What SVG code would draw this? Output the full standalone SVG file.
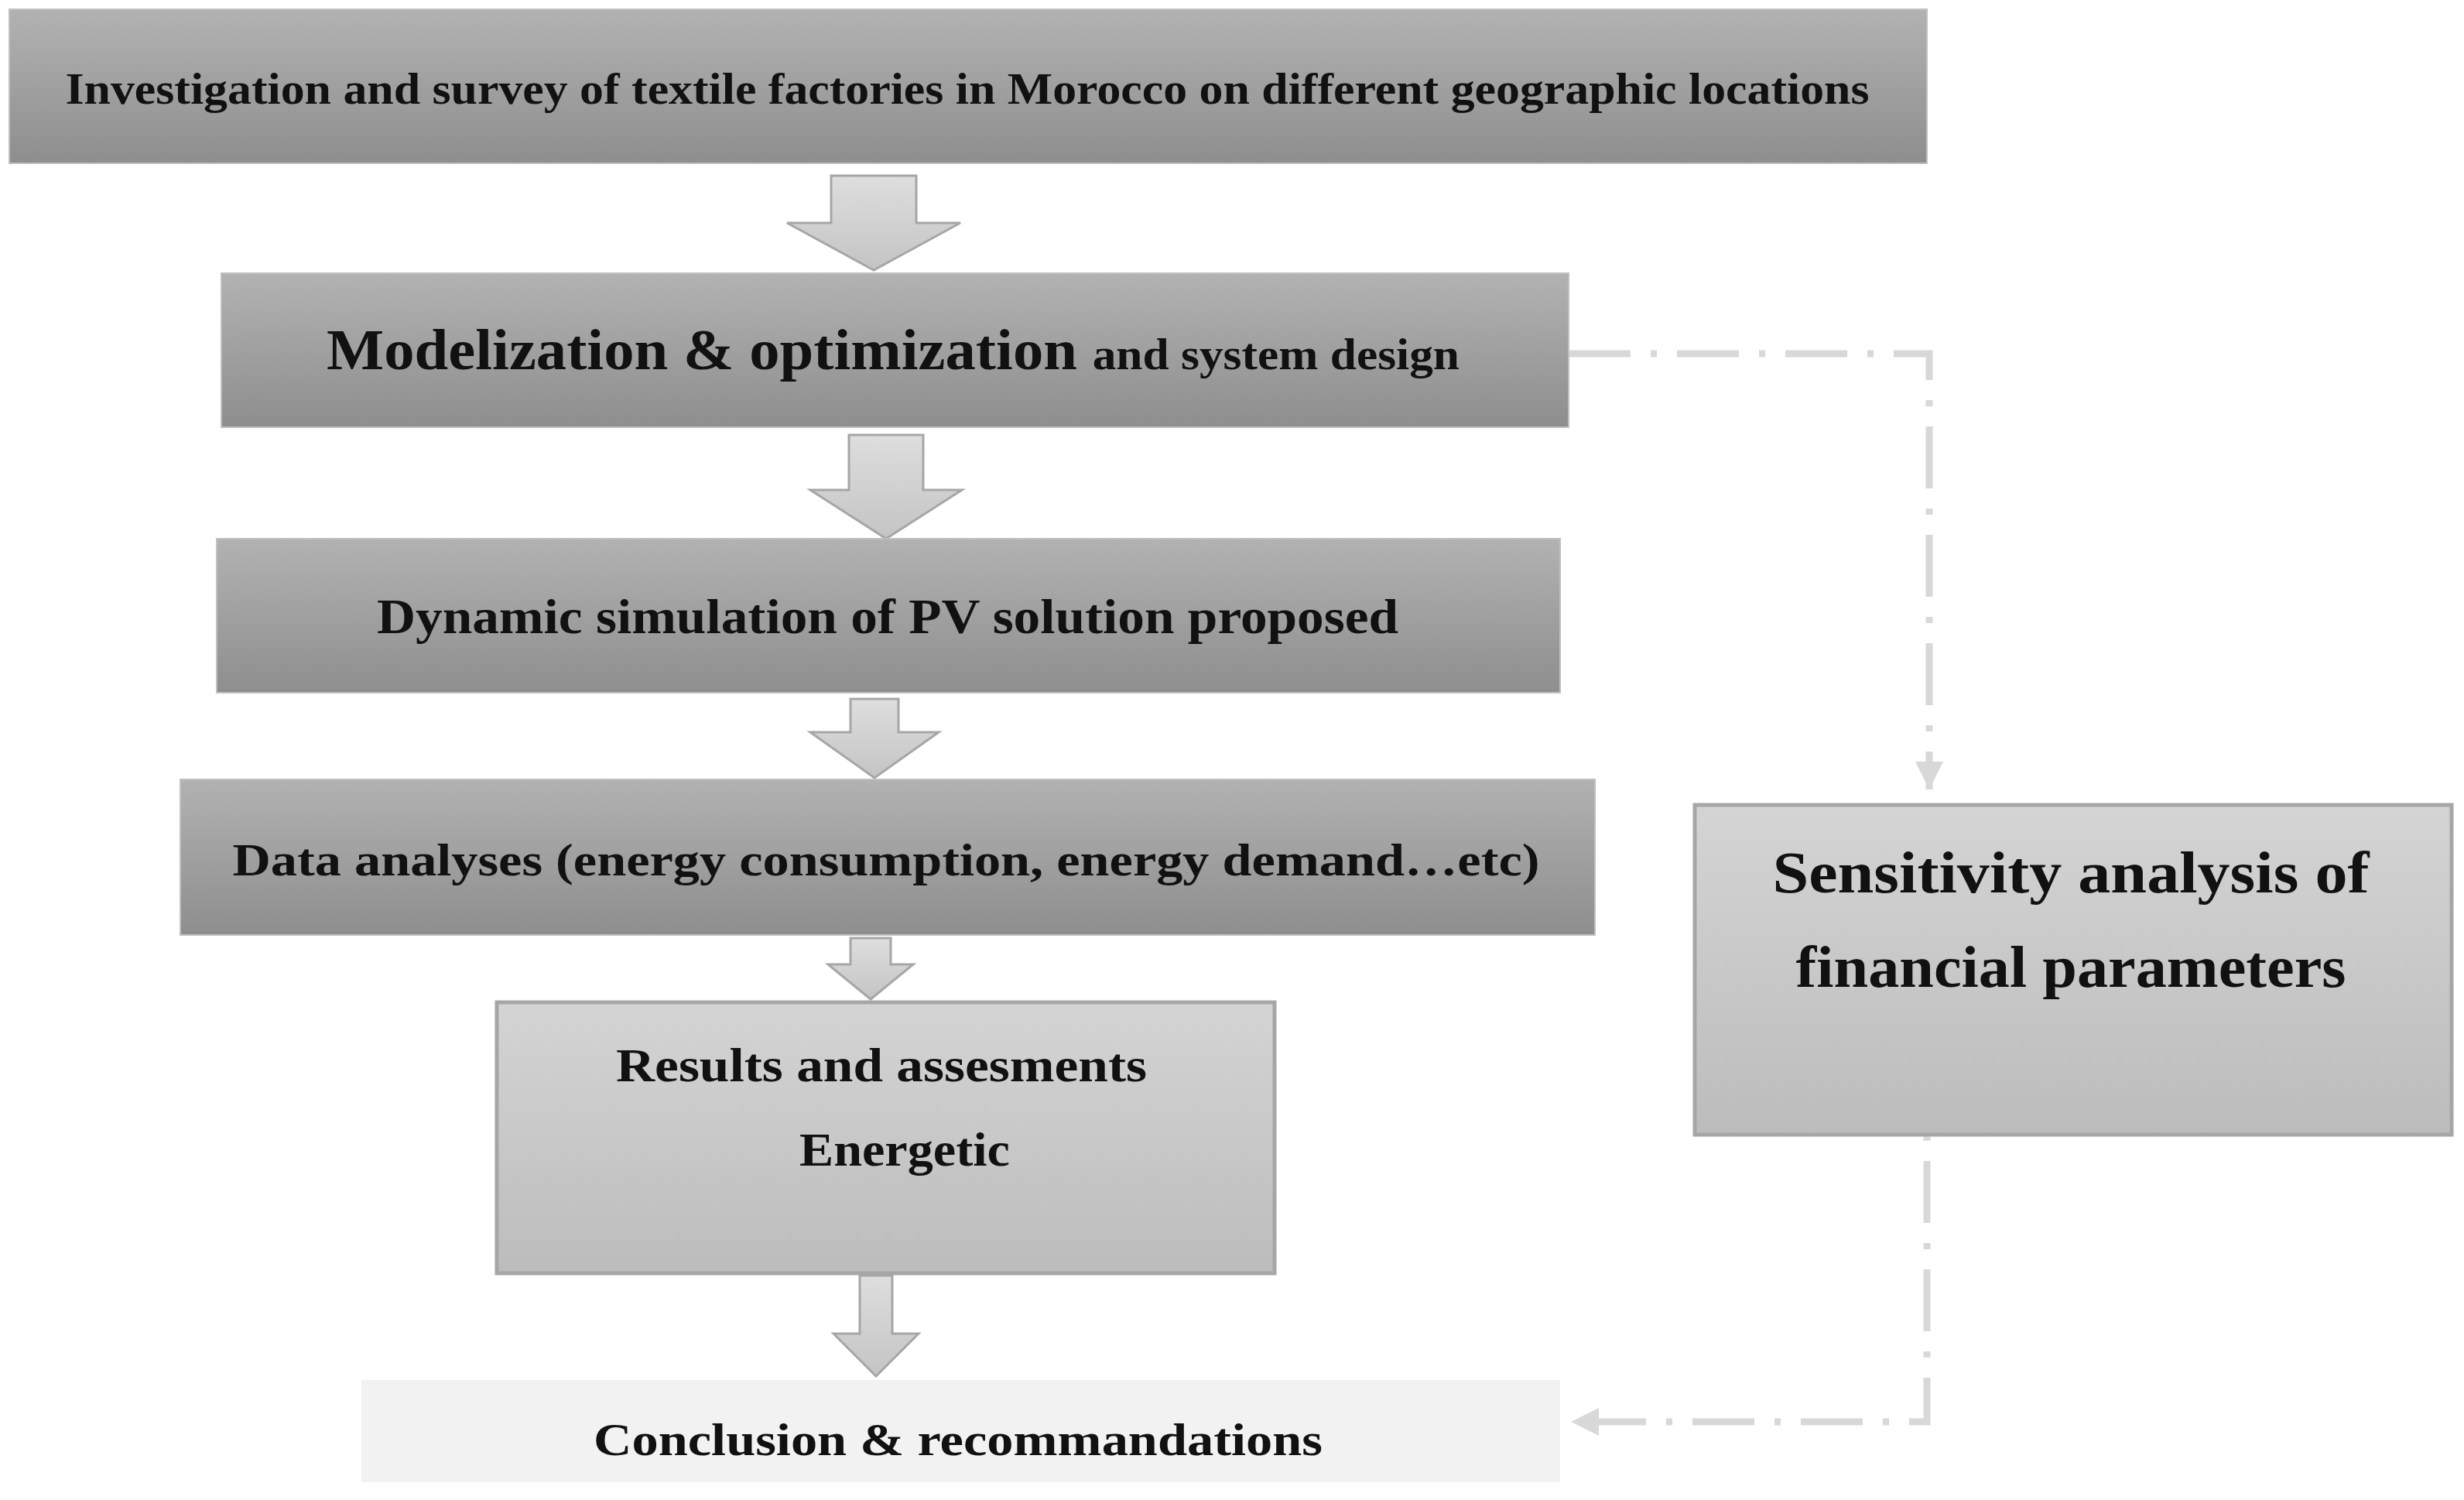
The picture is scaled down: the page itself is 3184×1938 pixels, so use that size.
<svg xmlns="http://www.w3.org/2000/svg" width="3184" height="1938" viewBox="0 0 3184 1938">
<defs>
<linearGradient id="gd" x1="0" y1="0" x2="0" y2="1"><stop offset="0" stop-color="#b2b2b2"/><stop offset="1" stop-color="#8e8e8e"/></linearGradient>
<linearGradient id="gl" x1="0" y1="0" x2="0" y2="1"><stop offset="0" stop-color="#d4d4d4"/><stop offset="1" stop-color="#bcbcbc"/></linearGradient>
<linearGradient id="ga" x1="0" y1="0" x2="0" y2="1"><stop offset="0" stop-color="#dedede"/><stop offset="1" stop-color="#c4c4c4"/></linearGradient>
<marker id="ah" viewBox="0 0 10 10" refX="10" refY="5" markerWidth="4" markerHeight="4" orient="auto" markerUnits="strokeWidth"><path d="M0,0 L10,5 L0,10 z" fill="#d8d8d8"/></marker>
</defs>
<style>
.t{font-family:"Liberation Serif","DejaVu Serif",serif;font-weight:bold;fill:#111;text-anchor:middle}
.bd{fill:url(#gd);stroke:#c0c0c0;stroke-width:2}
.bl{fill:url(#gl);stroke:#a6a6a6;stroke-width:5}
.ar{fill:url(#ga);stroke:#a6a6a6;stroke-width:3}
.dl{fill:none;stroke:#d8d8d8;stroke-width:9}
</style>
<rect width="3184" height="1938" fill="#fff"/>
<g id="connectors">
<path class="ar" d="M1074,227 H1184 V288 H1241 L1129,349 L1017,288 H1074 Z"/>
<path class="ar" d="M1097,562 H1193 V633 H1243 L1145,696 L1047,633 H1097 Z"/>
<path class="ar" d="M1099,903 H1161 V946 H1213 L1130,1005 L1047,946 H1099 Z"/>
<path class="ar" d="M1099,1212 H1151 V1246 H1180 L1125,1291 L1070,1246 H1099 Z"/>
<path class="ar" d="M1111,1648 H1153 V1723 H1187 L1132,1778 L1077,1723 H1111 Z"/>
<path class="dl" d="M2027,457 H2493 V1020" stroke-dasharray="80 26 8 26" marker-end="url(#ah)"/>
<path class="dl" d="M2490,1360 V1837 H2030" stroke-dasharray="80 26 8 26" marker-end="url(#ah)"/>
</g>
<g id="n1"><rect class="bd" x="12" y="12" width="2478" height="199"/>
<text class="t" x="1250" y="134" font-size="57" textLength="2331" lengthAdjust="spacingAndGlyphs">Investigation and survey of textile factories in Morocco on different geographic locations</text></g>
<g id="n2"><rect class="bd" x="286" y="353" width="1741" height="199"/>
<text class="t" x="1154" y="477" font-size="73" textLength="1464" lengthAdjust="spacingAndGlyphs">Modelization &amp; optimization <tspan font-size="57">and system design</tspan></text></g>
<g id="n3"><rect class="bd" x="280" y="696" width="1736" height="199"/>
<text class="t" x="1147" y="818" font-size="64" textLength="1320" lengthAdjust="spacingAndGlyphs">Dynamic simulation of PV solution proposed</text></g>
<g id="n4"><rect class="bd" x="233" y="1007" width="1828" height="201"/>
<text class="t" x="1145" y="1131" font-size="60" textLength="1689" lengthAdjust="spacingAndGlyphs">Data analyses (energy consumption, energy demand…etc)</text></g>
<g id="n5"><rect class="bl" x="642" y="1295" width="1005" height="350"/>
<text class="t" x="1139" y="1397" font-size="62" textLength="686" lengthAdjust="spacingAndGlyphs">Results and assesments</text>
<text class="t" x="1169" y="1506" font-size="62" textLength="272" lengthAdjust="spacingAndGlyphs">Energetic</text></g>
<g id="n6"><rect x="467" y="1783" width="1549" height="132" fill="#f2f2f2"/>
<text class="t" x="1238" y="1880" font-size="60" textLength="942" lengthAdjust="spacingAndGlyphs">Conclusion &amp; recommandations</text></g>
<g id="n7"><rect class="bl" x="2190" y="1040" width="978" height="426"/>
<text class="t" x="2676" y="1153" font-size="77" textLength="771" lengthAdjust="spacingAndGlyphs">Sensitivity analysis of</text>
<text class="t" x="2676" y="1275" font-size="77" textLength="711" lengthAdjust="spacingAndGlyphs">financial parameters</text></g>
</svg>
